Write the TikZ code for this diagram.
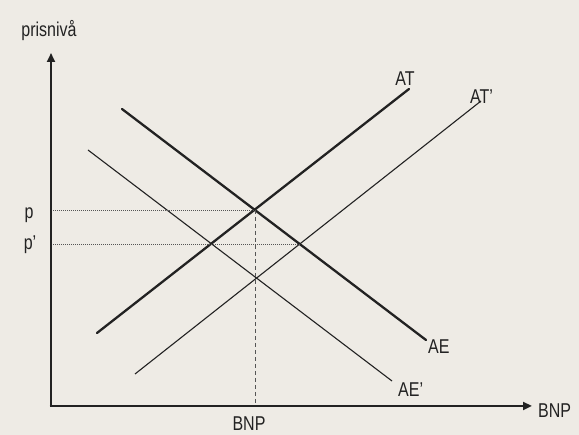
\documentclass[tikz,border=0pt]{standalone}
\usepackage{fontspec}
\setmainfont[FakeStretch=0.8]{Liberation Sans}
\usetikzlibrary{arrows.meta}
\definecolor{bg}{HTML}{EEEBE5}
\definecolor{ink}{HTML}{222222}
\definecolor{guide}{HTML}{555555}
\tikzset{
  axisline/.style={line width=2.8pt, draw=ink, -{Triangle[length=9pt,width=8pt]}},
  curvethick/.style={line width=2.3pt, draw=ink},
  curvethin/.style={line width=1.1pt, draw=ink},
  guidedot/.style={line width=0.8pt, draw=guide, dash pattern=on 1pt off 1pt},
  guidedash/.style={line width=1pt, draw=guide, dash pattern=on 4pt off 3pt},
  lbl/.style={font=\fontsize{20pt}{22pt}\selectfont, text=ink, inner sep=0pt}
}
\begin{document}
\begin{tikzpicture}[x=1pt,y=-1pt]
\fill[bg] (0,0) rectangle (579,435);
\useasboundingbox (0,0) rectangle (579,435);
% axes
\coordinate (O) at (51,406);
\coordinate (Ytop) at (51,53);
\coordinate (Xend) at (532,406);
\draw[axisline] (O) -- (Ytop);
\draw[axisline] ([xshift=-1.4pt]O) -- (Xend);
% curves
\coordinate (ATa) at (97,333);  \coordinate (ATb) at (409,89);
\coordinate (ATpa) at (135,374); \coordinate (ATpb) at (481,101);
\coordinate (AEa) at (122,109); \coordinate (AEb) at (426,340);
\coordinate (AEpa) at (88,150);  \coordinate (AEpb) at (392,381);
\draw[curvethick, line cap=round] (ATa) -- (ATb);
\draw[curvethick, line cap=round] (AEa) -- (AEb);
\draw[curvethin] (ATpa) -- (ATpb);
\draw[curvethin] (AEpa) -- (AEpb);
% guides
\coordinate (E) at (255,210);
\coordinate (Ep) at (300,244.5);
\coordinate (Py) at (53,210);
\coordinate (Ppy) at (53,244.5);
\coordinate (Ex) at (255,404.5);
\draw[guidedot] (Py) -- (E);
\draw[guidedot] (Ppy) -- (Ep);
\draw[guidedash] (E) -- (Ex);
% labels
\node[lbl, anchor=base] (ylab) at (49,37) {prisnivå};
\node[lbl, anchor=base west] (xlab) at (538,418) {BNP};
\node[lbl, anchor=base] (bnp) at (249,431) {BNP};
\node[lbl, anchor=base] (plab) at (29,219) {p};
\node[lbl, anchor=base] (pplab) at (30,250) {p’};
\node[lbl, anchor=base] (ATlab) at (405,86) {AT};
\node[lbl, anchor=base west] (ATplab) at (470,104) {AT’};
\node[lbl, anchor=base west] (AElab) at (428,354) {AE};
\node[lbl, anchor=base west] (AEplab) at (398,397) {AE’};
\end{tikzpicture}
\end{document}
